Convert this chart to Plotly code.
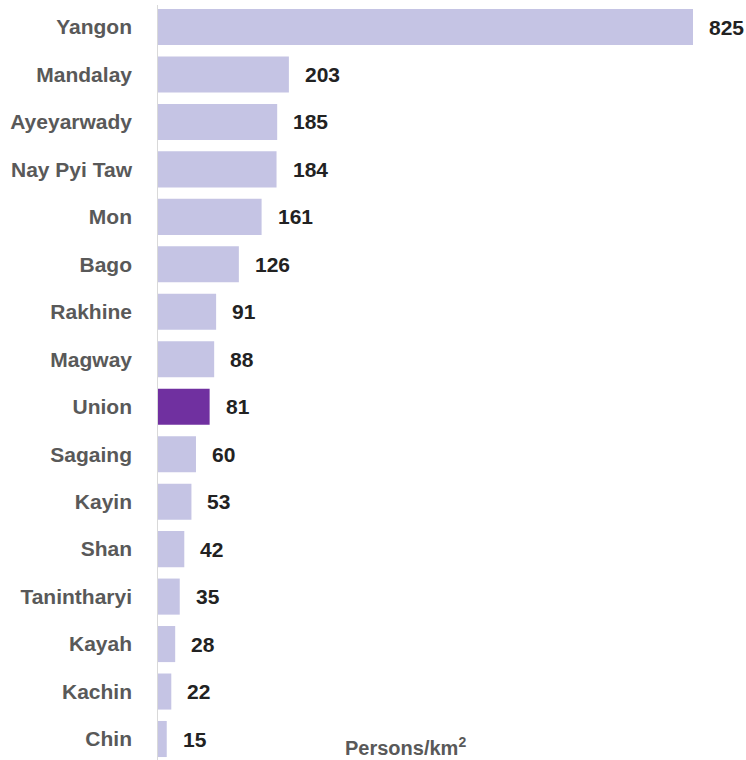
import plotly.graph_objects as go

# Population density by state/region, persons per km²
regions = ["Yangon", "Mandalay", "Ayeyarwady", "Nay Pyi Taw", "Mon", "Bago",
           "Rakhine", "Magway", "Union", "Sagaing", "Kayin", "Shan",
           "Tanintharyi", "Kayah", "Kachin", "Chin"]
density = [825, 203, 185, 184, 161, 126, 91, 88, 81, 60, 53, 42, 35, 28, 22, 15]

LIGHT = "#c5c4e4"
DARK = "#7030a0"
colors = [DARK if r == "Union" else LIGHT for r in regions]

W, H = 746, 760
LEFT = 157
px_per_unit = (693 - LEFT) / 825.0
x_max = (W - LEFT) / px_per_unit

row = (740 - 28) / 15.0
y_top = -27 / row
y_bot = (H - 27) / row

FONT = "Liberation Sans, Arial, sans-serif"

fig = go.Figure(go.Bar(
    x=density,
    y=list(range(len(regions))),
    orientation="h",
    marker=dict(color=colors, line=dict(width=0)),
    hoverinfo="skip",
))

# value labels to the right of each bar
for i, v in enumerate(density):
    fig.add_annotation(
        x=v, y=i, xref="x", yref="y", text=str(v), showarrow=False,
        xanchor="left", yanchor="middle", xshift=14,
        font=dict(family=FONT, size=21, color="#222222", weight="bold"),
    )

# unit label near the bottom of the chart
fig.add_annotation(
    x=(343 - LEFT) / px_per_unit, y=(H - 746) / H, xref="x", yref="paper",
    text="Persons/km<sup>2</sup>", showarrow=False,
    xanchor="left", yanchor="middle",
    font=dict(family=FONT, size=20, color="#595959", weight="bold"),
)

fig.update_layout(
    width=W, height=H,
    margin=dict(l=LEFT, r=0, t=0, b=0),
    paper_bgcolor="white", plot_bgcolor="white",
    bargap=0.24,
    showlegend=False,
    xaxis=dict(range=[0, x_max], visible=False, fixedrange=True),
    yaxis=dict(
        range=[y_bot, y_top],
        tickmode="array",
        tickvals=list(range(len(regions))),
        ticktext=regions,
        tickfont=dict(family=FONT, size=21, color="#595959", weight="bold"),
        ticks="", ticklabelstandoff=24,
        showgrid=False, zeroline=False,
        showline=False,
    ),
)

# thin vertical baseline at zero
fig.add_shape(type="line", xref="x", yref="paper", x0=0, x1=0,
              y0=0, y1=(H - 5) / H, line=dict(color="#d9d9d9", width=2))

fig.write_html("out.html")
